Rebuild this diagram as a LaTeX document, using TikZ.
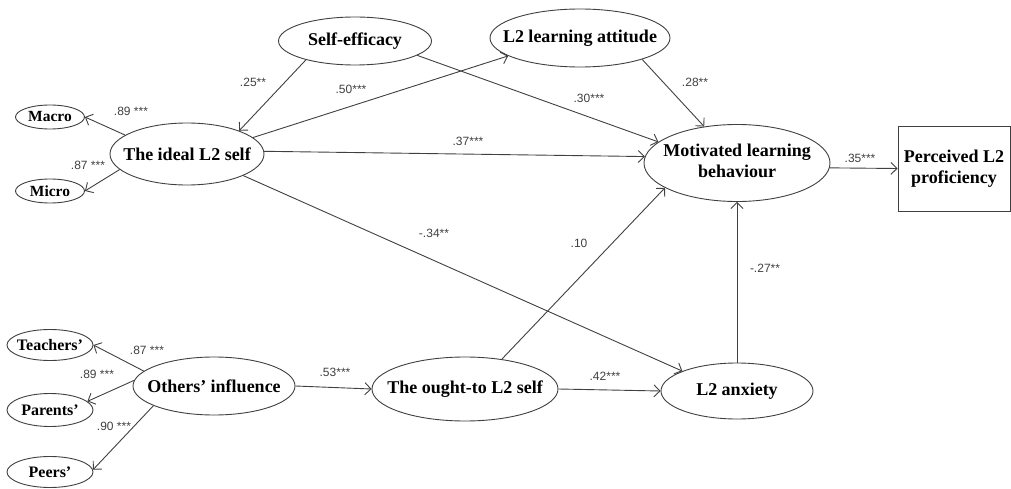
\documentclass[tikz,border=0pt]{standalone}
\usepackage{fontspec}
\setmainfont{Liberation Serif}
\newfontfamily\labfont{Liberation Sans}
\usetikzlibrary{arrows.meta,shapes.geometric}
\definecolor{ln}{HTML}{404040}
\newcommand\cz[1]{\makebox[0pt]{#1}}
\newcommand\twol[2]{\makebox[0pt]{\begin{tabular}{@{}c@{}}#1\\#2\end{tabular}}}
\begin{document}
\begin{tikzpicture}[x=1pt,y=-1pt,
  lat/.style={ellipse,draw=ln,line width=0.9pt,inner sep=0pt,fill=white,
    font=\fontsize{18}{21}\selectfont\bfseries},
  ind/.style={ellipse,draw=ln,line width=0.9pt,inner sep=0pt,fill=white,
    font=\fontsize{16}{18}\selectfont\bfseries},
  arr/.style={draw=ln,line width=0.9pt,-{Straight Barb[length=6pt,width=12pt]}},
  lab/.style={font=\labfont\fontsize{12}{13}\selectfont,text=ln,inner sep=0pt}]
\useasboundingbox (0,0) rectangle (1011,489);
% latent nodes
\node[lat,minimum width=153pt,minimum height=48pt] (se) at (355,41) {\cz{Self-efficacy}};
\node[lat,minimum width=180pt,minimum height=58pt] (att) at (580,38) {\cz{L2 learning attitude}};
\node[lat,minimum width=154pt,minimum height=62pt] (ideal) at (187,154) {\cz{The ideal L2 self}};
\node[lat,minimum width=186pt,minimum height=77pt] (mlb) at (737,163) {\twol{Motivated learning}{behaviour}};
\node[draw=ln,line width=0.9pt,minimum width=112pt,minimum height=85pt,inner sep=0pt,
  font=\fontsize{18}{21}\selectfont\bfseries] (perc) at (954,168.5) {\twol{Perceived L2}{proficiency}};
\node[lat,minimum width=162pt,minimum height=58pt] (oth) at (214,386) {\cz{Others’ influence}};
\node[lat,minimum width=186pt,minimum height=64pt] (ought) at (465,389) {\cz{The ought-to L2 self}};
\node[lat,minimum width=152pt,minimum height=56pt] (anx) at (737,391) {\cz{L2 anxiety}};
% indicators
\node[ind,font=\fontsize{15.5}{17}\selectfont\bfseries,minimum width=69pt,minimum height=24pt] (macro) at (50,117) {\cz{Macro}};
\node[ind,font=\fontsize{15.5}{17}\selectfont\bfseries,minimum width=69pt,minimum height=24pt] (micro) at (50,191) {\cz{Micro}};
\node[ind,minimum width=86pt,minimum height=31pt] (tea) at (50,345) {\cz{Teachers’}};
\node[ind,minimum width=86pt,minimum height=33pt] (par) at (50,410) {\cz{Parents’}};
\node[ind,minimum width=86pt,minimum height=31pt] (peer) at (50,472) {\cz{Peers’}};
% structural paths
\draw[arr] (se.201) -- (ideal.24);
\draw[arr] (ideal.14) -- (att.194);
\draw[arr] (se.347) -- (mlb.165);
\draw[arr] (ideal.2) -- (mlb.176);
\draw[arr] (att.341) -- (mlb.132);
\draw[arr] (ideal.339) -- (anx.160);
\draw[arr] (ought.39) -- (mlb.199);
\draw[arr] (anx.north) -- (mlb.south);
\draw[arr] (mlb.-3) -- (perc.west);
\draw[arr] (oth.east) -- (ought.west);
\draw[arr] (ought.east) -- (anx.west);
% measurement paths
\draw[arr] (ideal.163) -- (macro.east);
\draw[arr] (ideal.193) -- (micro.east);
\draw[arr] (oth.168) -- (tea.east);
\draw[arr] (oth.176) -- (par.13);
\draw[arr] (oth.198) -- (peer.3);
% labels
\node[lab] (l1) at (253,82) {.25**};
\node[lab] (l2) at (351,89) {.50***};
\node[lab] (l3) at (589,98) {.30***};
\node[lab] (l4) at (468,141) {.37***};
\node[lab] (l5) at (695,82) {.28**};
\node[lab] (l6) at (860,158) {.35***};
\node[lab] (l7) at (434,233) {-.34**};
\node[lab] (l8) at (579,243) {.10};
\node[lab] (l9) at (765,268) {-.27**};
\node[lab] (l10) at (605,376) {.42***};
\node[lab] (l11) at (335,372) {.53***};
\node[lab] (l12) at (131,111) {.89 ***};
\node[lab] (l13) at (88,165) {.87 ***};
\node[lab] (l14) at (147,350) {.87 ***};
\node[lab] (l15) at (97,374) {.89 ***};
\node[lab] (l16) at (114,426) {.90 ***};
\end{tikzpicture}
\end{document}
